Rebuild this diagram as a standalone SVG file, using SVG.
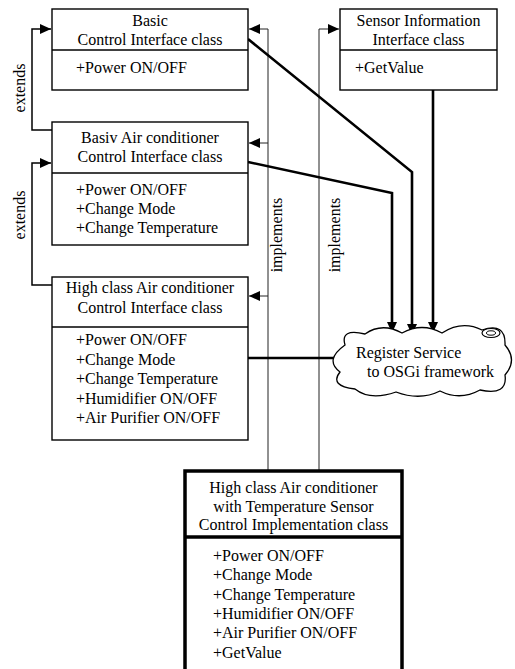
<svg xmlns="http://www.w3.org/2000/svg" width="515" height="669" viewBox="0 0 515 669">
<defs>
<style>
text{font-family:"Liberation Serif","Times New Roman",serif;font-size:16px;fill:#000}
.c{text-anchor:middle}
.box{fill:#fff;stroke:#000;stroke-width:1.4}
.bold{fill:#fff;stroke:#000;stroke-width:3.5}
.ext{fill:none;stroke:#000;stroke-width:1.5}
.imp{fill:none;stroke:#222;stroke-width:1}
.thick{fill:none;stroke:#000;stroke-width:2.6}
</style>
<marker id="ah" markerUnits="userSpaceOnUse" markerWidth="12" markerHeight="10" refX="11" refY="5" orient="auto">
<path d="M0,0 L11,5 L0,10 Z" fill="#000"/>
</marker>
</defs>
<rect width="515" height="669" fill="#fff"/>

<g id="connectors">
<polyline class="ext" points="52,130 32,130 32,29 51,29" marker-end="url(#ah)"/>
<polyline class="ext" points="52,285 32,285 32,163 51,163" marker-end="url(#ah)"/>
<polyline class="imp" points="268,471 268,29 249,29" marker-end="url(#ah)"/>
<polyline class="imp" points="268,143 249,143" marker-end="url(#ah)"/>
<polyline class="imp" points="268,296 249,296" marker-end="url(#ah)"/>
<polyline class="imp" points="319,471 319,29 339,29" marker-end="url(#ah)"/>
<polyline class="thick" points="248,39 412,172 412,335" marker-end="url(#ah)"/>
<polyline class="thick" points="248,162 392,193 392,333" marker-end="url(#ah)"/>
<polyline class="thick" points="433,90 433,333" marker-end="url(#ah)"/>
<polyline class="thick" points="248,358 350,358" marker-end="url(#ah)"/>
<text transform="translate(25,88) rotate(-90)" class="c">extends</text>
<text transform="translate(25,215) rotate(-90)" class="c">extends</text>
<text transform="translate(282,235) rotate(-90)" class="c">implements</text>
<text transform="translate(340,235) rotate(-90)" class="c">implements</text>
</g>

<g id="basic">
<rect class="box" x="52" y="9" width="196" height="81"/>
<line class="box" x1="52" y1="50" x2="248" y2="50"/>
<text class="c" x="150" y="26">Basic</text>
<text class="c" x="150" y="45">Control Interface class</text>
<text x="76" y="73">+Power ON/OFF</text>
</g>

<g id="basiv">
<rect class="box" x="52" y="122" width="196" height="123"/>
<line class="box" x1="52" y1="173" x2="248" y2="173"/>
<text class="c" x="150" y="143">Basiv Air conditioner</text>
<text class="c" x="150" y="162">Control Interface class</text>
<text x="76" y="195">+Power ON/OFF</text>
<text x="76" y="214">+Change Mode</text>
<text x="76" y="233">+Change Temperature</text>
</g>

<g id="highclass">
<rect class="box" x="52" y="277" width="196" height="163"/>
<line class="box" x1="52" y1="327" x2="248" y2="327"/>
<text class="c" x="150" y="293">High class Air conditioner</text>
<text class="c" x="150" y="313">Control Interface class</text>
<text x="76" y="345">+Power ON/OFF</text>
<text x="76" y="365">+Change Mode</text>
<text x="76" y="384">+Change Temperature</text>
<text x="76" y="404">+Humidifier ON/OFF</text>
<text x="76" y="423">+Air Purifier ON/OFF</text>
</g>

<g id="sensor">
<rect class="box" x="340" y="9" width="157" height="81"/>
<line class="box" x1="340" y1="50" x2="497" y2="50"/>
<text class="c" x="418.5" y="26">Sensor Information</text>
<text class="c" x="418.5" y="45">Interface class</text>
<text x="355" y="73">+GetValue</text>
</g>

<g id="cloud">
<path fill="#fff" stroke="#000" stroke-width="1.3" d="M345,345 Q340,328 365,334 Q382,322 402,333 Q422,322 442,333 Q462,320 482,330 Q506,322 505,345 Q518,360 505,375 Q508,396 480,390 Q460,401 440,391 Q420,401 396,392 Q370,401 355,389 Q329,386 340,372 Q324,360 345,345 Z"/>
<ellipse cx="491" cy="333" rx="9" ry="4.5" fill="#fff" stroke="#000" stroke-width="1.2"/>
<ellipse cx="491" cy="333" rx="4.5" ry="2.2" fill="none" stroke="#000" stroke-width="1"/>
<text x="356" y="358">Register Service</text>
<text x="367" y="377">to OSGi framework</text>
</g>

<g id="impl">
<path class="bold" d="M185,680 L185,471 L402,471 L402,680"/>
<line class="bold" x1="185" y1="537" x2="402" y2="537"/>
<text class="c" x="293.5" y="493">High class Air conditioner</text>
<text class="c" x="293.5" y="512">with Temperature Sensor</text>
<text class="c" x="293.5" y="530">Control Implementation class</text>
<text x="213" y="561">+Power ON/OFF</text>
<text x="213" y="580">+Change Mode</text>
<text x="213" y="600">+Change Temperature</text>
<text x="213" y="619">+Humidifier ON/OFF</text>
<text x="213" y="638">+Air Purifier ON/OFF</text>
<text x="213" y="658">+GetValue</text>
</g>
</svg>
